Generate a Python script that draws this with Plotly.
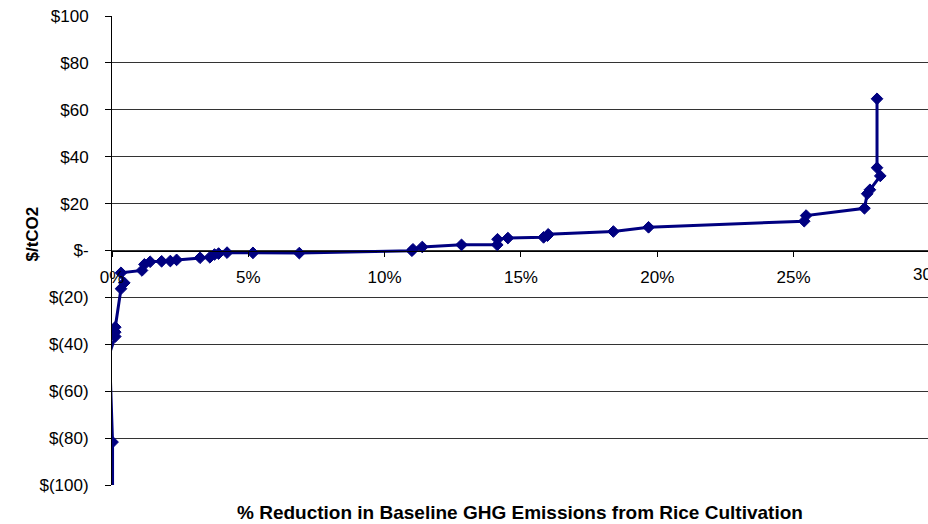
import plotly.graph_objects as go

# % reduction (fraction) and cost $/tCO2, in plotted order
reduction = [0.0002, 0.0002, -0.0009, 0.0012, 0.0012, 0.0012, 0.0033, 0.0045, 0.0033,
             0.0110, 0.0119, 0.0140, 0.0182, 0.0214, 0.0237, 0.0323, 0.0359, 0.0376,
             0.0391, 0.0422, 0.0517, 0.0687, 0.1100, 0.1104, 0.1138, 0.1282, 0.1413,
             0.1414, 0.1452, 0.1583, 0.1597, 0.1600, 0.1839, 0.1968, 0.2539, 0.2546,
             0.2760, 0.2770, 0.2780, 0.2818, 0.2806, 0.2806]
cost = [-150, -81.7, -44, -36.7, -34.8, -32.7, -16.3, -13.8, -9.5,
        -8.5, -5.9, -4.8, -4.6, -4.5, -4.0, -3.1, -2.9, -1.7,
        -1.3, -0.9, -1.0, -1.1, -0.1, 0.5, 1.5, 2.4, 2.4,
        4.8, 5.3, 5.6, 6.3, 6.9, 8.1, 9.9, 12.5, 14.9,
        18.0, 24.2, 25.9, 31.8, 35.3, 64.7]

y_tickvals = [100, 80, 60, 40, 20, 0, -20, -40, -60, -80, -100]
y_ticktext = ["$100", "$80", "$60", "$40", "$20", "$-", "$(20)", "$(40)", "$(60)", "$(80)", "$(100)"]
x_tickvals = [0, 0.05, 0.10, 0.15, 0.20, 0.25]
x_ticktext = ["0%", "5%", "10%", "15%", "20%", "25%"]
x_max_visible = 0.2993
x_last_tick = 0.30

NAVY = "#000080"
FONT = "Liberation Sans, Arial, sans-serif"

marker_sizes = [9 if x >= 0 else 0 for x in reduction]
marker_lines = [1 if x >= 0 else 0 for x in reduction]

fig = go.Figure()
fig.add_trace(go.Scatter(
    x=reduction, y=cost, mode="lines+markers",
    line=dict(color=NAVY, width=3),
    marker=dict(symbol="diamond", size=marker_sizes, color=NAVY, opacity=1,
                line=dict(color=NAVY, width=marker_lines)),
    showlegend=False, hoverinfo="x+y",
))

fig.update_layout(
    width=928, height=524,
    margin=dict(l=112, r=0, t=16, b=39),
    plot_bgcolor="white", paper_bgcolor="white",
    font=dict(family=FONT, size=17, color="black"),
    xaxis=dict(
        range=[0, x_max_visible], anchor="free", position=0.5,
        tickvals=x_tickvals, ticktext=x_ticktext,
        ticks="outside", ticklen=5, tickcolor="black",
        showline=True, linecolor="black", linewidth=1,
        showgrid=False, zeroline=False,
        tickfont=dict(size=17), ticklabelstandoff=6,
    ),
    yaxis=dict(
        range=[-100, 100], tickvals=y_tickvals, ticktext=y_ticktext,
        ticks="outside", ticklen=6, tickcolor="black",
        showline=True, linecolor="black", linewidth=1,
        showgrid=True, gridcolor="#333333", gridwidth=1,
        zeroline=False, tickfont=dict(size=17), ticklabelstandoff=13,
        ticklabeloverflow="allow",
    ),
    annotations=[
        dict(text="30%", xref="paper", yref="paper",
             x=x_last_tick / x_max_visible, y=0.5, xanchor="center", yanchor="top",
             yshift=-12, showarrow=False, font=dict(size=17)),
        dict(text="<b>% Reduction in Baseline GHG Emissions from Rice Cultivation</b>",
             xref="paper", yref="paper", x=0.5, y=0, xanchor="center", yanchor="middle",
             yshift=-27, showarrow=False, font=dict(size=19)),
        dict(text="<b>$/tCO2</b>", xref="paper", yref="paper", x=0, y=0.5,
             xanchor="center", yanchor="middle", xshift=-80, yshift=16,
             textangle=-90, showarrow=False, font=dict(size=17)),
    ],
)

fig.write_html(
    "out.html",
    config={"displayModeBar": False},
    post_script=("document.body.style.margin='0';"
                 "document.body.style.overflow='hidden';"
                 "document.documentElement.style.overflow='hidden';"),
)
